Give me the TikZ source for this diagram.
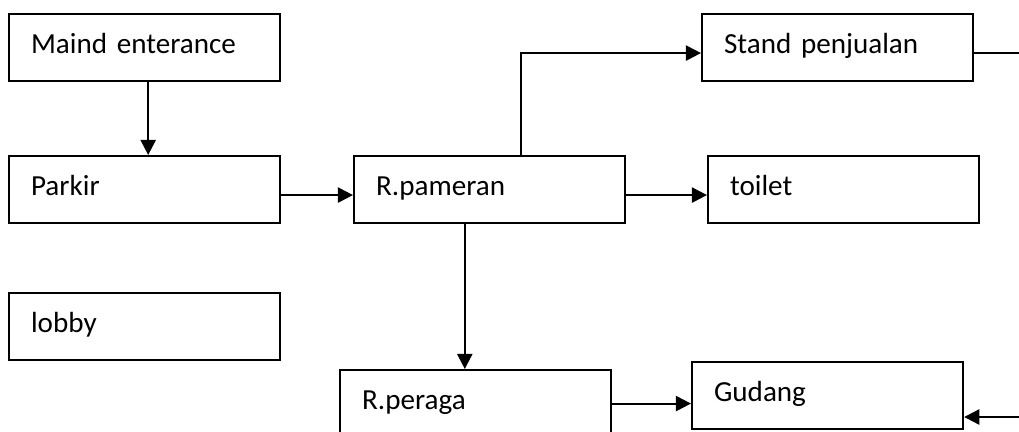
\documentclass[tikz,border=0pt]{standalone}
\usepackage{fontspec}
\setmainfont{Carlito}
\usetikzlibrary{arrows.meta}

\begin{document}
\begin{tikzpicture}[
    x=0.025cm, y=-0.025cm,
    every node/.style={font=\fontsize{20.7}{24}\selectfont},
    room/.style={draw, line width=1.5pt, anchor=north west, align=left,
                 text width=5.675cm, inner xsep=0.55cm, inner ysep=0pt,
                 text height=0.975cm, text depth=0.7cm},
    arr/.style={-{Triangle[length=0.38cm, width=0.38cm]}, line width=1.5pt},
    plain/.style={line width=1.5pt}
]
\useasboundingbox (0,0) rectangle (1019,432);

\node[room] (main)    at (8,13)    {Maind enterance};
\node[room] (parkir)  at (8,155)   {Parkir};
\node[room] (lobby)   at (8,292)   {lobby};
\node[room] (pameran) at (353,155) {R.pameran};
\node[room] (stand)   at (701,13)  {Stand penjualan};
\node[room] (toilet)  at (707,155) {toilet};
\node[room] (peraga)  at (339,369) {R.peraga};
\node[room] (gudang)  at (691,361) {Gudang};

\coordinate (out) at (1019,54);
\coordinate (in)  at (1019,417);

\draw[arr] ([xshift=0.09cm]main.south) coordinate (m) -- (m |- parkir.north);
\draw[arr] (parkir.base east) -- (pameran.base west);
\draw[arr] (pameran.base east) -- (toilet.base west);
\draw[arr] ([xshift=0.78cm]pameran.north) |- (stand.base west);
\draw[arr] ([xshift=-0.62cm]pameran.south) coordinate (d) -- (d |- peraga.north);
\draw[arr] (peraga.east) -- (peraga.east -| gudang.west);

\draw[plain] (stand.base east) -- (stand.base east -| out);
\draw[arr] (in) -- (in -| gudang.east);
\end{tikzpicture}
\end{document}
